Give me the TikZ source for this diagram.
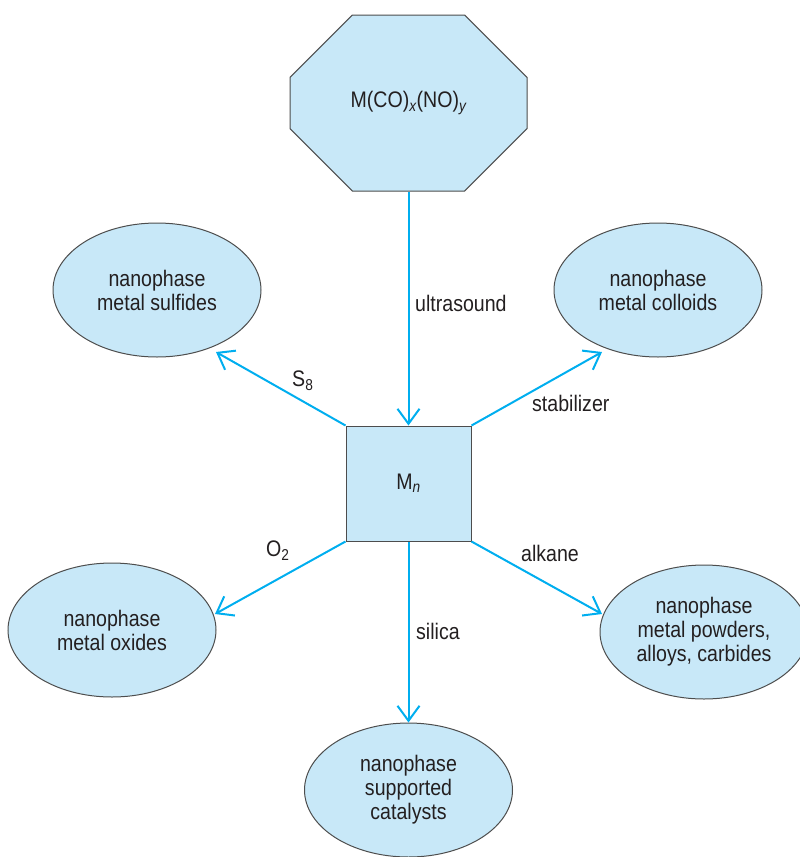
\documentclass[tikz,border=0pt]{standalone}
\usepackage{fontspec}
\setmainfont[FakeStretch=0.87]{Liberation Sans}
\usetikzlibrary{shapes.geometric,shapes.misc,arrows.meta}
\definecolor{panel}{HTML}{C8E8F8}
\definecolor{flow}{HTML}{00AEEF}
\definecolor{ink}{HTML}{231F20}
\definecolor{rim}{HTML}{4D4D4D}
\begin{document}
\begin{tikzpicture}[x=1pt,y=-1pt,
  font=\fontsize{22.5}{24}\selectfont, text=ink,
  product/.style={ellipse, draw=rim, line width=1pt, fill=panel,
    minimum width=208pt, minimum height=134pt, inner sep=0pt, align=center},
  reagent/.style={anchor=west, inner sep=0pt},
  flowarrow/.style={draw=flow, line width=2pt,
    -{Straight Barb[length=15pt,width=22pt]}}]
\useasboundingbox (0,0) rectangle (800,857);
\clip (0,0) rectangle (800,857);

% precursor and metal cluster
\node[chamfered rectangle, chamfered rectangle xsep=53pt, chamfered rectangle ysep=51pt,
  draw=rim, line width=1pt, fill=panel, minimum width=237pt, minimum height=176pt,
  inner sep=0pt] (oct) at (408.5,103)
  {M(CO)\textsubscript{\itshape x}(NO)\textsubscript{\itshape y}};
\node[draw=rim, line width=1pt, fill=panel, minimum width=125pt, minimum height=115pt,
  inner sep=0pt] (sq) at (408.5,483.5) {M\textsubscript{\itshape n}};

% products
\node[product] (sul) at (157,290) {nanophase\\metal sulfides};
\node[product] (col) at (658,290) {nanophase\\metal colloids};
\node[product] (oxi) at (112,630) {nanophase\\metal oxides};
\node[product] (pow) at (704,632) {nanophase\\metal powders,\\alloys, carbides};
\node[product] (cat) at (408.5,790) {nanophase\\supported\\catalysts};

% arrow tips
\coordinate (tsul) at (216,352);
\coordinate (tcol) at (602,352);
\coordinate (toxi) at (215,614);
\coordinate (tpow) at (602,614);

% connectors
\draw[flowarrow] (oct.south) -- (sq.north);
\draw[flowarrow] (sq.north west) -- (tsul);
\draw[flowarrow] (sq.north east) -- (tcol);
\draw[flowarrow] (sq.south west) -- (toxi);
\draw[flowarrow] (sq.south east) -- (tpow);
\draw[flowarrow] (sq.south) -- (cat.north);

% reagent labels
\node[reagent] (lus) at (415,303) {ultrasound};
\node[reagent] (ls8) at (292,381) {S\textsubscript{8}};
\node[reagent] (lst) at (532,403) {stabilizer};
\node[reagent] (lo2) at (266,551) {O\textsubscript{2}};
\node[reagent] (lal) at (521,553) {alkane};
\node[reagent] (lsi) at (416,631) {silica};
\end{tikzpicture}
\end{document}
